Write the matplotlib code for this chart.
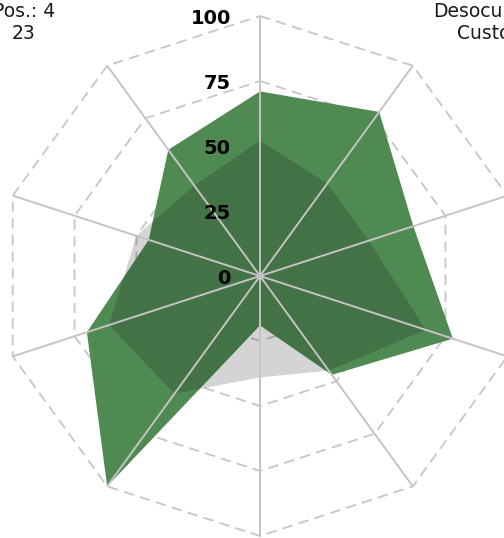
import numpy as np
import matplotlib
matplotlib.use("Agg")
import matplotlib.pyplot as plt

plt.rcParams["font.family"] = ["DejaVu Sans"]
plt.rcParams["lines.scale_dashes"] = False

# Indicators, clockwise from the top spoke
categories = [
    "Renda\nPos.: 9",
    "Desocupação\nCusto: 4",
    "Saúde\nPos.: 6",
    "Educação\nPos.: 3",
    "Segurança\nPos.: 12",
    "Habitação\nPos.: 20",
    "Transporte\nPos.: 1",
    "Saneamento\nPos.: 5",
    "Cultura\nPos.: 15",
    "Pos.: 4\n23",
]
municipio = [71, 78, 62, 78, 47, 19, 100, 70, 45, 60]
referencia = [52, 44, 44, 67, 45, 39, 56, 61, 50, 43]
radial_ticks = [0, 25, 50, 75, 100]

W, H, DPI = 504, 538, 100
fig = plt.figure(figsize=(W / DPI, H / DPI), dpi=DPI)
cx, cy, R = 260, 276, 260  # centre and outer radius in pixels
ax = fig.add_axes([(cx - R) / W, (H - cy - R) / H, 2 * R / W, 2 * R / H],
                  projection="polar")
ax.set_theta_offset(np.pi / 2)
ax.set_theta_direction(-1)
ax.set_ylim(0, 100)
ax.grid(False)
ax.spines["polar"].set_visible(False)
ax.set_xticks([])
ax.set_yticks([])
ax.patch.set_visible(False)

n = len(categories)
theta = np.linspace(0, 2 * np.pi, n, endpoint=False)
theta_closed = np.append(theta, theta[0])

# dashed polygonal rings
for t in radial_ticks[1:]:
    ax.plot(theta_closed, [t] * (n + 1), color="#c6c6c6", lw=1.3,
            linestyle=(0, (7.5, 4.5)), zorder=1, clip_on=False)

# series
ax.fill(theta_closed, municipio + municipio[:1], color="#508a53",
        lw=0, zorder=2)
ax.fill(theta_closed, referencia + referencia[:1], color="black",
        alpha=0.17, lw=0, zorder=3)

# spokes
for th in theta:
    ax.plot([th, th], [0, 100], color="#c4c4c4", lw=1.4, zorder=4,
            clip_on=False, solid_capstyle="butt")
ax.plot([0], [0], "o", color="#c4c4c4", ms=4, zorder=4)

# radial value labels along the top spoke
for t in radial_ticks:
    ax.annotate(str(t), xy=(0, t), xytext=(-21, -2), textcoords="offset points",
                ha="right", va="center", fontsize=14, fontweight="bold",
                color="black", zorder=5, annotation_clip=False)

# category labels outside the outer ring
for th, lab in zip(theta, categories):
    sx, sy = np.sin(th), np.cos(th)
    if abs(sx) < 1e-6:
        dx, dy = 0, 70 * np.sign(sy)
    elif abs(sy) < 0.5:
        dx, dy = 120 * np.sign(sx), 0
    else:
        dx = 60 * np.sign(sx)
        dy = 31 if sy > 0 else -80
    ax.annotate(lab, xy=(th, 100), xytext=(dx, dy), textcoords="offset points",
                ha="center", va="center", fontsize=13.5, color="#1a1a1a",
                multialignment="center", annotation_clip=False, zorder=5)

fig.savefig("out.png", dpi=DPI)
